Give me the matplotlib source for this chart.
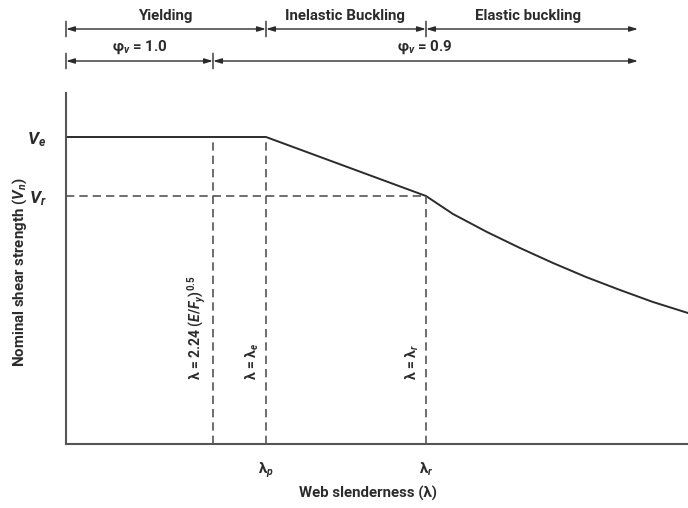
import matplotlib
matplotlib.use('Agg')
import matplotlib.pyplot as plt

plt.rcParams['font.family'] = ['Roboto', 'DejaVu Sans']
plt.rcParams['font.weight'] = 'bold'
plt.rcParams['axes.labelweight'] = 'bold'
plt.rcParams['mathtext.fontset'] = 'custom'
plt.rcParams['mathtext.rm'] = 'Roboto:bold'
plt.rcParams['mathtext.it'] = 'Roboto:italic:bold'
plt.rcParams['mathtext.bf'] = 'Roboto:bold'

# symbolic positions (arbitrary units)
lam_lim = 147      # lambda = 2.24 (E/Fy)^0.5
lam_p = 200
lam_r = 360
lam_end = 572
V_e = 307
V_r = 248
curve_x = [0, lam_p, lam_r, 387, 421, 454, 487, 520, 554, 587, 622]
curve_y = [V_e, V_e, V_r, 230, 212, 196, 181, 167, 154, 142, 131]

zones = ['Yielding', 'Inelastic Buckling', 'Elastic buckling']
zone_edges = [0, lam_p, lam_r, lam_end]
zone_label_x = [99, 279, 462]
phi_labels = [r'φ$_v$ = 1.0', r'φ$_v$ = 0.9']
phi_edges = [0, lam_lim, lam_end]
phi_label_x = [74, 359]

ink = '#2b2b2b'
fig = plt.figure(figsize=(6.88, 5.08), dpi=100)
ax = fig.add_axes([66/688, 64/508, 622/688, 351/508])
ax.plot(curve_x, curve_y, color=ink, lw=1.4, clip_on=False, solid_joinstyle='round')

dash = dict(color='#555555', lw=1.2, ls=(0, (5, 3)))
ax.plot([lam_lim, lam_lim], [0, V_e], **dash)
ax.plot([lam_p, lam_p], [0, V_e], **dash)
ax.plot([lam_r, lam_r], [0, V_r], **dash)
ax.plot([0, lam_r], [V_r, V_r], **dash)

fs = 10.8
fr = 10
ax.text(lam_lim - 5, 64, r'λ = 2.24 ($E$/$F_y$)$^{0.5}$', rotation=90, ha='right', va='bottom',
        fontsize=fr, color=ink)
ax.text(lam_p - 5, 64, r'λ = λ$_e$', rotation=90, ha='right', va='bottom', fontsize=fr, color=ink)
ax.text(lam_r - 5, 64, r'λ = λ$_r$', rotation=90, ha='right', va='bottom', fontsize=fr, color=ink)

ax.set_xlim(0, 622)
ax.set_ylim(0, 351)
for s in ['top', 'right']:
    ax.spines[s].set_visible(False)
for s in ['left', 'bottom']:
    ax.spines[s].set_color('#555555')
    ax.spines[s].set_linewidth(1.5)
ax.set_xticks([lam_p, lam_r])
ax.set_xticklabels([r'λ$_p$', r'λ$_r$'], fontsize=fs, color=ink)
ax.set_yticks([V_e, V_r])
ax.set_yticklabels([r'$V_e$', r'$V_r$'], fontsize=12.5, color=ink)
ax.tick_params(length=0)
ax.tick_params(axis='x', pad=12)
ax.tick_params(axis='y', pad=14)
ax.set_xlabel('Web slenderness (λ)', fontsize=fs, color=ink)
ax.set_ylabel(r'Nominal shear strength ($V_n$)', fontsize=fs, color=ink)
ax.xaxis.set_label_coords(0.486, -0.12)
ax.yaxis.set_label_coords(-0.06, 0.49)

# dimension arrows on top
def dim_row(edges, y, labels, label_x, ly):
    for x in edges[:-1]:
        ax.annotate('', xy=(x, y - 10.5/508), xytext=(x, y + 10.5/508),
                    xycoords=('data', 'figure fraction'),
                    arrowprops=dict(arrowstyle='-', color=ink, lw=1.0))
    for a, b in zip(edges[:-1], edges[1:]):
        ax.annotate('', xy=(b, y), xytext=(a, y), xycoords=('data', 'figure fraction'),
                    arrowprops=dict(arrowstyle='<|-|>,head_length=0.5,head_width=0.15',
                                    color=ink, lw=1.0, shrinkA=0, shrinkB=0))
    for t, x in zip(labels, label_x):
        ax.annotate(t, xy=(x, ly), xycoords=('data', 'figure fraction'),
                    ha='center', va='center', fontsize=fs, color=ink)

dim_row(zone_edges, 479/508, zones, zone_label_x, 492/508)
dim_row(phi_edges, 447/508, phi_labels, phi_label_x, 461/508)

fig.savefig('out.png')
